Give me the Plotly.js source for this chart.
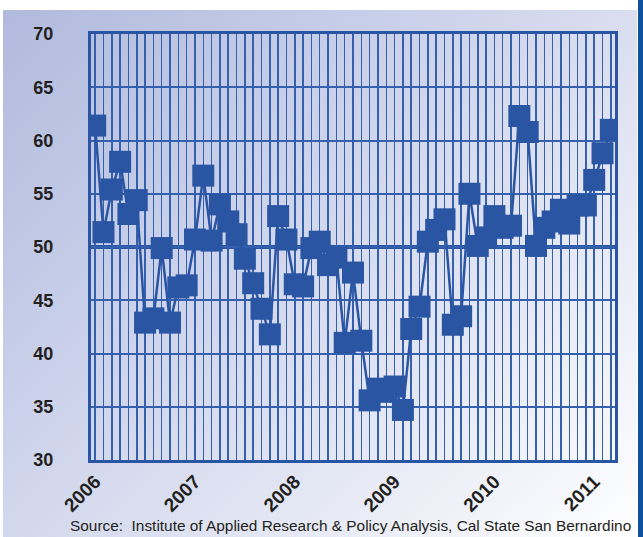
<!DOCTYPE html>
<html>
<head>
<meta charset="utf-8">
<script src="https://cdn.plot.ly/plotly-3.0.1.min.js"></script>
<style>
  html, body { margin: 0; padding: 0; background: #ffffff; }
  #wrap { position: relative; width: 643px; height: 537px; overflow: hidden; background: #ffffff; }
  #panel { position: absolute; left: 3px; top: 10px; width: 634px; height: 527px;
           background: linear-gradient(135deg, #b1badd 0%, #c6cde8 30%, #dde1f1 60%, #ffffff 100%); }
  #bar { position: absolute; left: 638px; top: 0; width: 5px; height: 537px; background: #0f50a0; }
  #chart { position: absolute; left: 0; top: 0; width: 643px; height: 537px; }
</style>
</head>
<body>
<div id="wrap">
  <div id="panel"></div>
  <div id="bar"></div>
  <div id="chart"></div>
</div>
<script>
// Years shown on the axis (each monthly series starts in January)
const years = ['2006', '2007', '2008', '2009', '2010', '2011'];
const monthNames = ['Jan','Feb','Mar','Apr','May','Jun','Jul','Aug','Sep','Oct','Nov','Dec'];

// Monthly index values, Jan 2006 - Mar 2011
const values = [
  61.4, 51.4, 55.4, 58.0, 53.1, 54.4, 42.9, 43.3, 49.9, 42.9, 46.2, 46.4,
  50.7, 56.7, 50.6, 54.0, 52.4, 51.2, 48.9, 46.6, 44.2, 41.8, 52.9, 50.7,
  46.5, 46.3, 49.9, 50.5, 48.3, 49.0, 41.0, 47.6, 41.2, 35.6, 36.7, 36.4,
  36.9, 34.7, 42.3, 44.4, 50.5, 51.6, 52.6, 42.7, 43.5, 55.0, 50.1, 50.9,
  52.9, 51.8, 52.0, 62.3, 60.8, 50.1, 51.8, 52.4, 53.5, 52.2, 53.9, 53.9,
  56.3, 58.8, 61.0
];

const sourceText = 'Source:  Institute of Applied Research &amp; Policy Analysis, Cal State San Bernardino';

// Category labels for each month
const months = [];
const tickText = [];
for (let i = 0; i < values.length; i++) {
  const y = years[0] * 1 + Math.floor(i / 12);
  const m = i % 12;
  months.push(monthNames[m] + ' ' + y);
  tickText.push(m === 0 ? String(y) : '');
}

const blue = '#2a55a3';
const gridBlue = '#3560ae';

const trace = {
  type: 'scatter',
  mode: 'lines+markers',
  x: months,
  y: values,
  line: { color: blue, width: 2.5 },
  marker: { symbol: 'square', size: 22, color: blue, line: { width: 0 } },
  hoverinfo: 'x+y'
};

const layout = {
  width: 643,
  height: 537,
  margin: { l: 91, r: 28, t: 34, b: 77 },
  paper_bgcolor: 'rgba(0,0,0,0)',
  plot_bgcolor: 'rgba(0,0,0,0)',
  showlegend: false,
  font: { family: 'Liberation Sans, Arial, sans-serif', color: '#231f20' },
  xaxis: {
    type: 'category',
    range: [-0.5, values.length - 0.5],
    tickmode: 'array',
    tickvals: months,
    ticktext: tickText,
    tickangle: -45,
    ticks: '',
    showgrid: true,
    gridcolor: gridBlue,
    gridwidth: 1.5,
    showline: true,
    mirror: true,
    linecolor: blue,
    linewidth: 3,
    zeroline: false,
    tickfont: { family: 'Liberation Sans, Arial, sans-serif', size: 19, color: '#231f20', weight: 'bold' }
  },
  yaxis: {
    range: [30, 70],
    dtick: 5,
    tick0: 30,
    ticks: '',
    ticklabelstandoff: 31,
    showgrid: true,
    gridcolor: gridBlue,
    gridwidth: 2,
    showline: true,
    mirror: true,
    linecolor: blue,
    linewidth: 3,
    zeroline: false,
    tickfont: { family: 'Liberation Sans, Arial, sans-serif', size: 18, color: '#231f20', weight: 'bold' }
  },
  shapes: [{
    type: 'line', xref: 'paper', x0: 0, x1: 1, yref: 'y', y0: 50, y1: 50,
    line: { color: blue, width: 4 }, layer: 'below'
  }],
  annotations: [{
    text: sourceText,
    xref: 'paper', yref: 'paper',
    x: 0.5, y: -0.153, xanchor: 'center', yanchor: 'middle',
    xshift: -3,
    showarrow: false,
    font: { family: 'Liberation Sans, Arial, sans-serif', size: 15.4, color: '#231f20' }
  }]
};

Plotly.newPlot('chart', [trace], layout, { displayModeBar: false, staticPlot: true });
</script>
</body>
</html>
